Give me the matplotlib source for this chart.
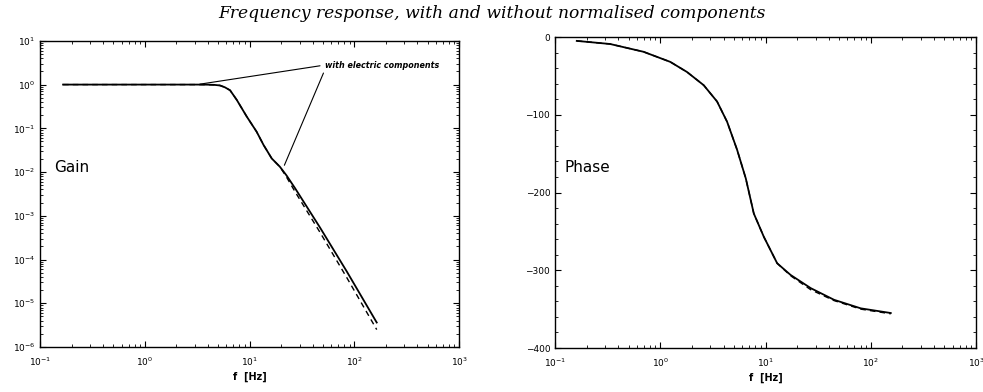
import numpy as np
import matplotlib
matplotlib.use('Agg')
import matplotlib.pyplot as plt
from matplotlib.ticker import LogLocator, NullFormatter, MultipleLocator

# gain
gain_f = [0.166, 1.0, 3.16, 4.0, 4.6, 5.22, 5.8, 6.52, 7.55, 9.40, 11.7, 13.6, 16.3, 19.5,
          22.6, 27.2, 47.1, 85.1, 163.7]
gain_elec = [1.0, 1.0, 1.0, 0.995, 0.985, 0.955, 0.87, 0.741, 0.447, 0.186, 0.0832, 0.0417,
             0.0204, 0.0132, 0.0083, 0.00427, 5.37e-4, 5.25e-5, 3.63e-6]
gain_norm = [1.0, 1.0, 1.0, 0.995, 0.985, 0.955, 0.87, 0.741, 0.447, 0.186, 0.0832, 0.0417,
             0.0204, 0.0132, 0.0076, 0.00355, 4.17e-4, 3.8e-5, 2.5e-6]

# phase in degrees
phase_f = [0.161, 0.334, 0.693, 1.245, 1.795, 2.588, 3.467, 4.315, 5.37, 6.50, 7.74, 9.64,
           12.9, 17.3, 26.9, 44.8, 80.4, 154.9]
phase_elec = [-5, -9, -19, -32, -45, -62, -83, -109, -145, -182, -227, -257,
              -291, -306, -323, -338, -349, -355]
phase_norm = [-5, -9, -19, -32, -45, -62, -83, -109, -145, -182, -227, -257,
              -291, -307, -325, -339, -350, -356]

title = "Frequency response, with and without normalised components"

fig = plt.figure(figsize=(9.83, 3.92), dpi=100)
ax1 = fig.add_axes([0.0407, 0.1148, 0.4263, 0.781])
ax2 = fig.add_axes([0.5646, 0.1122, 0.4283, 0.7934])

fig.text(0.5, 0.965, title, ha='center', va='center', fontsize=12.3,
         family='DejaVu Serif', style='italic')

# gain panel
ax1.plot(gain_f, gain_elec, color='black', lw=1.3)
ax1.plot(gain_f, gain_norm, color='black', lw=1.0, ls=(0, (4, 3)))
ax1.set_xscale('log')
ax1.set_yscale('log')
ax1.set_xlim(0.1, 1000)
ax1.set_ylim(1e-6, 10)
ax1.text(0.136, 0.013, 'Gain', fontsize=11, va='center')

ax1.annotate('', xy=(3.16, 1.0), xytext=(50, 2.75),
             arrowprops=dict(arrowstyle='-', color='black', lw=0.8))
ax1.annotate('', xy=(21, 0.0125), xytext=(52, 2.1),
             arrowprops=dict(arrowstyle='-', color='black', lw=0.8))
ax1.text(53, 2.8, 'with electric components', fontsize=5.8, fontweight='bold',
         style='italic', va='center', ha='left')

# phase panel
ax2.plot(phase_f, phase_elec, color='black', lw=1.3)
ax2.plot(phase_f, phase_norm, color='black', lw=1.0, ls=(0, (4, 3)))
ax2.set_xscale('log')
ax2.set_xlim(0.1, 1000)
ax2.set_ylim(-400, 0)
ax2.yaxis.set_major_locator(MultipleLocator(100))
ax2.yaxis.set_minor_locator(MultipleLocator(20))
ax2.text(0.122, -168, 'Phase', fontsize=11, va='center')

for ax in (ax1, ax2):
    ax.xaxis.set_major_locator(LogLocator(base=10, numticks=10))
    ax.xaxis.set_minor_locator(LogLocator(base=10, subs=np.arange(2, 10), numticks=20))
    ax.xaxis.set_minor_formatter(NullFormatter())
    ax.tick_params(which='both', direction='in', top=True, right=True, labelsize=6.5)
    ax.tick_params(which='major', length=4, width=0.8)
    ax.tick_params(which='minor', length=2, width=0.6)
    ax.tick_params(axis='x', pad=6)
    for s in ax.spines.values():
        s.set_linewidth(1.0)
    ax.set_xlabel('f  [Hz]', fontsize=7, fontweight='bold', labelpad=3)

ax1.yaxis.set_major_locator(LogLocator(base=10, numticks=10))
ax1.yaxis.set_minor_locator(LogLocator(base=10, subs=np.arange(2, 10), numticks=20))
ax1.yaxis.set_minor_formatter(NullFormatter())

plt.savefig('out.png', dpi=100)
plt.close()
